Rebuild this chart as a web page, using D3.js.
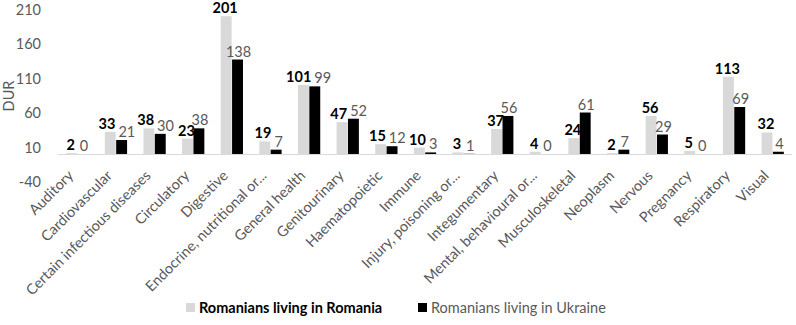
<!DOCTYPE html>
<html>
<head>
<meta charset="utf-8">
<script src="https://cdn.jsdelivr.net/npm/d3@7"></script>
<style>
  body { margin: 0; background: #fff; }
  svg { display: block; font-family: Lato, sans-serif; }
</style>
</head>
<body>
<svg width="796" height="325"></svg>
<script>
const categories = ["Auditory", "Cardiovascular", "Certain infectious diseases", "Circulatory", "Digestive",
    "Endocrine, nutritional or...", "General health", "Genitourinary", "Haematopoietic", "Immune",
    "Injury, poisoning or...", "Integumentary", "Mental, behavioural or...", "Musculoskeletal", "Neoplasm",
    "Nervous", "Pregnancy", "Respiratory", "Visual"];
const romania = [2, 33, 38, 23, 201, 19, 101, 47, 15, 10, 3, 37, 4, 24, 2, 56, 5, 113, 32];
const ukraine = [0, 21, 30, 38, 138, 7, 99, 52, 12, 3, 1, 56, 0, 61, 7, 29, 0, 69, 4];
const yTicks = [-40, 10, 60, 110, 160, 210];
const seriesNames = ["Romanians living in Romania", "Romanians living in Ukraine"];

const colors = ["#d9d9d9", "#000000"];
const margin = {left: 58, right: 4, top: 10, bottom: 143};
const width = 796, height = 325;

const svg = d3.select("svg");

const x = d3.scaleBand()
    .domain(categories)
    .range([margin.left, width - margin.right]);

const y = d3.scaleLinear()
    .domain([-40, 210])
    .range([height - margin.bottom, margin.top]);

const inner = d3.scaleBand()
    .domain([0, 1])
    .range([0, x.bandwidth()])
    .paddingInner(0.04)
    .paddingOuter(0.72);

// y tick labels
svg.append("g").selectAll("text")
    .data(yTicks)
    .join("text")
    .attr("x", 41)
    .attr("y", d => y(d))
    .attr("dy", "0.35em")
    .attr("text-anchor", "end")
    .attr("fill", "#595959")
    .style("font-size", "14.5px")
    .text(d => d);

svg.append("text")
    .attr("transform", `translate(14, ${y(85)}) rotate(-90)`)
    .attr("text-anchor", "middle")
    .attr("fill", "#595959")
    .style("font-size", "14.5px")
    .text("DUR");

const series = [romania, ukraine];

const groups = svg.append("g").selectAll("g")
    .data(categories)
    .join("g")
    .attr("transform", d => `translate(${x(d)},0)`);

groups.selectAll("rect")
    .data((d, i) => series.map((s, k) => ({k, v: s[i]})))
    .join("rect")
    .attr("x", d => inner(d.k))
    .attr("width", inner.bandwidth())
    .attr("y", d => y(Math.max(0, d.v)))
    .attr("height", d => Math.abs(y(d.v) - y(0)))
    .attr("fill", d => colors[d.k]);

groups.each(function(c, i) {
    const g = d3.select(this);
    const labels = series.map((s, k) => g.append("text")
        .attr("y", y(s[i]) - 3)
        .attr("text-anchor", "middle")
        .attr("fill", k ? "#595959" : "#000")
        .style("font-weight", k ? "normal" : "bold")
        .style("font-size", "14.5px")
        .text(s[i]));
    const w = labels.map(t => t.node().getComputedTextLength());
    let cx = [inner(0) + inner.bandwidth() / 2 - 1, inner(1) + inner.bandwidth() / 2 + 1];
    // push the pair apart when they collide, like the spreadsheet does
    const dy = Math.abs(y(romania[i]) - y(ukraine[i]));
    const overlap = (cx[0] + w[0] / 2 + 3) - (cx[1] - w[1] / 2);
    if (overlap > 0 && dy < 10) {
        cx[0] -= overlap * 0.35;
        cx[1] += overlap * 0.65;
    }
    labels.forEach((t, k) => t.attr("x", cx[k]));
});

// zero axis line
svg.append("line")
    .attr("x1", margin.left)
    .attr("x2", width - margin.right)
    .attr("y1", y(0))
    .attr("y2", y(0))
    .attr("stroke", "#d9d9d9")
    .attr("stroke-width", 1);

// category labels
svg.append("g").selectAll("text")
    .data(categories)
    .join("text")
    .attr("transform", d => `translate(${x(d) + x.bandwidth() / 2 - 3},${y(0) + 22}) rotate(-45)`)
    .attr("text-anchor", "end")
    .attr("fill", "#595959")
    .style("font-size", "14.5px")
    .text(d => d);

// legend
const legend = svg.append("g").attr("transform", "translate(186, 308)");
const legendX = [0, 232];
seriesNames.forEach((name, k) => {
    legend.append("rect")
        .attr("x", legendX[k])
        .attr("y", -5)
        .attr("width", 9)
        .attr("height", 9)
        .attr("fill", colors[k]);
    legend.append("text")
        .attr("x", legendX[k] + 13)
        .attr("y", 0)
        .attr("dy", "0.35em")
        .attr("fill", k ? "#595959" : "#000")
        .style("font-weight", k ? "normal" : "bold")
        .style("font-size", "14.5px")
        .text(name);
});
</script>
</body>
</html>
